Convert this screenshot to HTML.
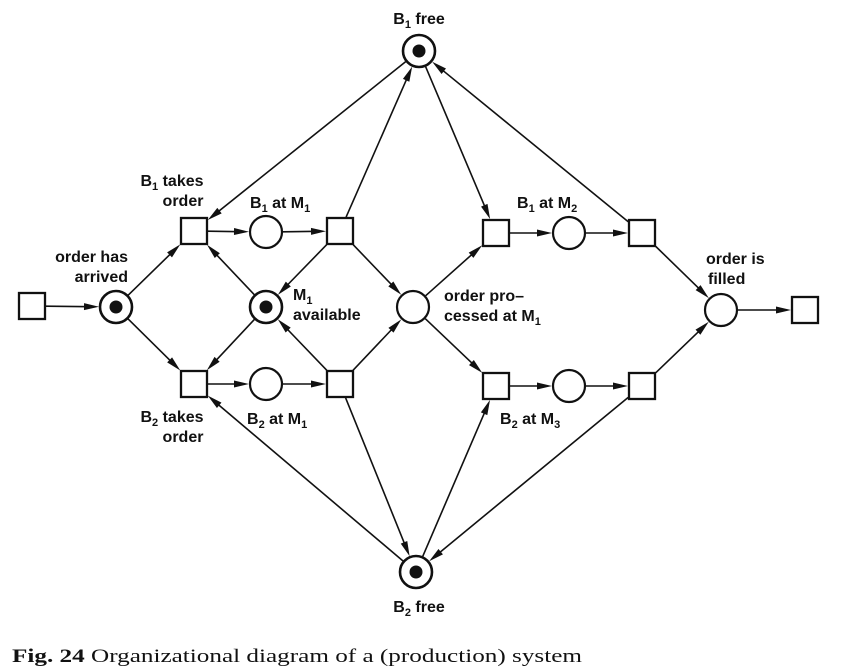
<!DOCTYPE html>
<html><head><meta charset="utf-8"><style>
html,body{margin:0;padding:0;background:#fff;}
svg{display:block;}
.lbl{font-family:"Liberation Sans",sans-serif;font-size:16px;font-weight:bold;fill:#111;}
.cap{font-family:"Liberation Serif",serif;font-size:19px;fill:#111;}
</style></head><body>
<svg id="net" width="861" height="670" viewBox="0 0 861 670" xmlns="http://www.w3.org/2000/svg">
<g id="edges"></g>
<g id="nodes"></g>
<g>
<text class="lbl" x="419" y="24" text-anchor="middle">B<tspan font-size="11" dy="4">1</tspan><tspan dy="-4"> free</tspan></text>
<text class="lbl" x="419" y="612" text-anchor="middle">B<tspan font-size="11" dy="4">2</tspan><tspan dy="-4"> free</tspan></text>
<text class="lbl" x="172" y="186" text-anchor="middle">B<tspan font-size="11" dy="4">1</tspan><tspan dy="-4"> takes</tspan></text>
<text class="lbl" x="183" y="206" text-anchor="middle">order</text>
<text class="lbl" x="172" y="422" text-anchor="middle">B<tspan font-size="11" dy="4">2</tspan><tspan dy="-4"> takes</tspan></text>
<text class="lbl" x="183" y="442" text-anchor="middle">order</text>
<text class="lbl" x="250" y="208">B<tspan font-size="11" dy="4">1</tspan><tspan dy="-4"> at M</tspan><tspan font-size="11" dy="4">1</tspan></text>
<text class="lbl" x="247" y="424">B<tspan font-size="11" dy="4">2</tspan><tspan dy="-4"> at M</tspan><tspan font-size="11" dy="4">1</tspan></text>
<text class="lbl" x="128" y="262" text-anchor="end">order has</text>
<text class="lbl" x="128" y="282" text-anchor="end">arrived</text>
<text class="lbl" x="293" y="300">M<tspan font-size="11" dy="4">1</tspan></text>
<text class="lbl" x="293" y="320">available</text>
<text class="lbl" x="444" y="301">order pro–</text>
<text class="lbl" x="444" y="321">cessed at M<tspan font-size="11" dy="4">1</tspan></text>
<text class="lbl" x="517" y="208">B<tspan font-size="11" dy="4">1</tspan><tspan dy="-4"> at M</tspan><tspan font-size="11" dy="4">2</tspan></text>
<text class="lbl" x="500" y="424">B<tspan font-size="11" dy="4">2</tspan><tspan dy="-4"> at M</tspan><tspan font-size="11" dy="4">3</tspan></text>
<text class="lbl" x="706" y="264">order is</text>
<text class="lbl" x="708" y="284">filled</text>
</g>
<text class="cap" x="12" y="662" textLength="570" lengthAdjust="spacingAndGlyphs"><tspan font-weight="bold">Fig. 24</tspan>   Organizational diagram of a (production) system</text>
</svg>
<script>
const nodeIds = ['src','oa','t1a','p1a','t1b','m1','t2a','p2a','t2b','op','t3a','p3a','t3b','t4a','p4a','t4b','of','sink','b1','b2'];
const nodeTypes = ['t','p','t','p','t','p','t','p','t','p','t','p','t','t','p','t','p','t','p','p'];
const nodeX = [32,116,194,266,340,266,194,266,340,413,496,569,642,496,569,642,721,805,419,416];
const nodeY = [306,307,231,232,231,307,384,384,384,307,233,233,233,386,386,386,310,310,51,572];
const nodeMarked = ['oa','m1','b1','b2'];
const arcs = [['src','oa'],['oa','t1a'],['oa','t2a'],['b1','t1a'],['t1a','p1a'],['p1a','t1b'],['t1b','b1'],['t1b','m1'],['t1b','op'],
['m1','t1a'],['m1','t2a'],['b2','t2a'],['t2a','p2a'],['p2a','t2b'],['t2b','m1'],['t2b','op'],['t2b','b2'],
['b1','t3a'],['op','t3a'],['t3a','p3a'],['p3a','t3b'],['t3b','b1'],['t3b','of'],
['op','t4a'],['b2','t4a'],['t4a','p4a'],['p4a','t4b'],['t4b','b2'],['t4b','of'],['of','sink']];
const NS='http://www.w3.org/2000/svg';
const R=16, H=13;
const N={};
nodeIds.forEach((id,i)=>N[id]={t:nodeTypes[i],x:nodeX[i],y:nodeY[i]});
function trim(n,dx,dy){
  if(n.t==='p') return R+1;
  const ax=Math.abs(dx), ay=Math.abs(dy);
  return H/Math.max(ax,ay)+1;
}
const eg=document.getElementById('edges');
arcs.forEach(a=>{
  const s=N[a[0]], d=N[a[1]];
  let dx=d.x-s.x, dy=d.y-s.y; const L=Math.hypot(dx,dy); dx/=L; dy/=L;
  const s0=trim(s,dx,dy), e0=trim(d,dx,dy);
  const x1=s.x+dx*s0, y1=s.y+dy*s0, x2=d.x-dx*e0, y2=d.y-dy*e0;
  const ln=document.createElementNS(NS,'line');
  
  
  const al=15, aw=3.5;
  ln.setAttribute('x1',x1);ln.setAttribute('y1',y1);ln.setAttribute('x2',x2-dx*al*0.6);ln.setAttribute('y2',y2-dy*al*0.6);
  ln.setAttribute('stroke','#111');ln.setAttribute('stroke-width','1.6');
  eg.appendChild(ln);
  const bx=x2-dx*al, by=y2-dy*al;
  const hd=document.createElementNS(NS,'polygon');
  
  
  hd.setAttribute('points',x2+','+y2+' '+(bx-dy*aw)+','+(by+dx*aw)+' '+(bx+dy*aw)+','+(by-dx*aw));
  hd.setAttribute('fill','#111');
  eg.appendChild(hd);
});
const ng=document.getElementById('nodes');
nodeIds.forEach(id=>{
  const n=N[id];
  if(n.t==='t'){
    const r=document.createElementNS(NS,'rect');
    
    
    r.setAttribute('x',n.x-H);r.setAttribute('y',n.y-H);r.setAttribute('width',2*H);r.setAttribute('height',2*H);
    r.setAttribute('fill','#fff');r.setAttribute('stroke','#111');r.setAttribute('stroke-width','2.3');
    ng.appendChild(r);
  } else {
    const marked=nodeMarked.includes(id);
    const c=document.createElementNS(NS,'circle');
    
    
    c.setAttribute('cx',n.x);c.setAttribute('cy',n.y);c.setAttribute('r',R);
    c.setAttribute('fill','#fff');c.setAttribute('stroke','#111');c.setAttribute('stroke-width',marked?'2.6':'2.2');
    ng.appendChild(c);
    if(marked){
      const t=document.createElementNS(NS,'circle');
      
      
      t.setAttribute('cx',n.x);t.setAttribute('cy',n.y);t.setAttribute('r',6.5);
      t.setAttribute('fill','#111');
      ng.appendChild(t);
    }
  }
});
</script>
</body></html>
